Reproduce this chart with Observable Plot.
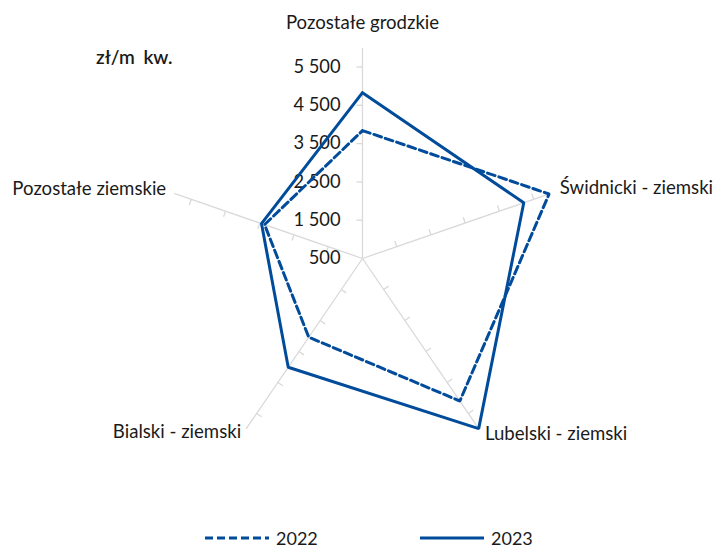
<!DOCTYPE html>
<html>
<head>
<meta charset="utf-8">
<script src="https://cdn.jsdelivr.net/npm/d3@7"></script>
<script src="https://cdn.jsdelivr.net/npm/@observablehq/plot@0.6"></script>
<style>
  body { margin: 0; background: #fff; font-family: Lato, "DejaVu Sans", sans-serif; color: #1a1a1a; }
  #wrap { position: relative; width: 717px; height: 551px; }
  #legend { position: absolute; left: 0; top: 520px; width: 717px; height: 31px; }
  .item { position: absolute; top: 9px; height: 18px; display: flex; align-items: center; font-size: 18px; line-height: 18px; }
  .item svg { display: block; margin-right: 7px; }
  .item span { display: block; height: 18px; line-height: 18px; }
</style>
</head>
<body>
<div id="wrap"><div id="chart"></div><div id="legend"></div></div>
<script>
// ---- data ----
const categories = ["Pozostałe grodzkie", "Świdnicki - ziemski", "Lubelski - ziemski", "Bialski - ziemski", "Pozostałe ziemskie"];
const values2022 = [3840, 5950, 5100, 3040, 3360];
const values2023 = [4830, 5210, 5990, 4010, 3450];
const seriesNames = ["2022", "2023"];
const tickValues = [500, 1500, 2500, 3500, 4500, 5500];
const tickLabels = ["500", "1 500", "2 500", "3 500", "4 500", "5 500"];
const unitLabel = "zł/m kw.";
const rMin = 500, rMax = 6000;

// ---- layout ----
const W = 717, H = 520;
const cx = 362, cy = 258;     // centre in pixels
const ky = 0.0383;            // px per unit (vertical)
const kx = ky * 0.94;         // px per unit (horizontal)
const blue = "#004c9b";
const grid = "#d9d9d9";
const n = categories.length;
const ang = i => i * 2 * Math.PI / n;
const pt = (i, v) => ({x: (v - rMin) * Math.sin(ang(i)), y: (v - rMin) * Math.cos(ang(i))});

const poly = vals => {
  const p = vals.map((v, i) => pt(i, v));
  return [...p, p[0]];
};

// spokes
const spokes = categories.map((c, i) => ({i}));

// ticks (perpendicular, 6px)
const ticks = [];
categories.forEach((c, i) => {
  const ux = Math.sin(ang(i)) * kx, uy = -Math.cos(ang(i)) * ky;
  const len = Math.hypot(ux, uy);
  const px = uy / len, py = -ux / len; // screen perpendicular
  tickValues.slice(1).forEach(t => {
    const p = pt(i, t);
    ticks.push({x1: p.x, y1: p.y, x2: p.x + 6 * px / kx, y2: p.y - 6 * py / ky});
  });
});

const labelLayout = [
  {anchor: "middle", dx: 0, dy: -25},
  {anchor: "start", dx: 9, dy: -5},
  {anchor: "start", dx: 6, dy: 5},
  {anchor: "end", dx: -5, dy: 3},
  {anchor: "end", dx: -8, dy: -4}
];

const labelMarks = categories.map((c, i) => Plot.text([c], {
  x: () => pt(i, rMax).x, y: () => pt(i, rMax).y, text: d => d,
  textAnchor: labelLayout[i].anchor, dx: labelLayout[i].dx, dy: labelLayout[i].dy,
  fontSize: 18.6
}));

const chart = Plot.plot({
  width: W, height: H,
  margin: 0,
  x: {domain: [-cx / kx, (W - cx) / kx], range: [0, W], axis: null},
  y: {domain: [-(H - cy) / ky, cy / ky], range: [H, 0], axis: null},
  style: {fontFamily: "Lato, 'DejaVu Sans', sans-serif", fontSize: "18px", color: "#1a1a1a", background: "#fff"},
  marks: [
    Plot.link(spokes, {x1: () => 0, y1: () => 0, x2: d => pt(d.i, rMax).x, y2: d => pt(d.i, rMax).y, stroke: grid, strokeWidth: 1.3}),
    Plot.link(ticks, {x1: "x1", y1: "y1", x2: "x2", y2: "y2", stroke: grid, strokeWidth: 1.3}),
    Plot.text(tickValues, {x: () => 0, y: t => t - rMin, text: (t, i) => tickLabels[i], textAnchor: "end", dx: -22, fontSize: 18.3}),
    Plot.line(poly(values2022), {x: "x", y: "y", stroke: blue, strokeWidth: 3, strokeDasharray: "8,4", strokeLinejoin: "miter", curve: "linear"}),
    Plot.line(poly(values2023), {x: "x", y: "y", stroke: blue, strokeWidth: 3, strokeLinejoin: "miter", curve: "linear"}),
    ...labelMarks,
    Plot.text([unitLabel], {frameAnchor: "top-left", dx: 172, dy: 50, text: d => d, textAnchor: "end", fontSize: 19, fontWeight: 600})
  ]
});
d3.select(chart).selectAll("text").filter(function() { return this.textContent === unitLabel; }).style("word-spacing", "4px");
document.getElementById("chart").appendChild(chart);

// legend
const legend = d3.select("#legend");
const legendPos = [205, 420];
seriesNames.forEach((s, i) => {
  const item = legend.append("div").attr("class", "item").style("left", legendPos[i] + "px");
  const svg = item.append("svg").attr("width", 64).attr("height", 6);
  svg.append("line").attr("x1", 0).attr("x2", 64).attr("y1", 3).attr("y2", 3)
    .attr("stroke", blue).attr("stroke-width", 3)
    .attr("stroke-dasharray", i === 0 ? "8,4" : null);
  item.append("span").text(s);
});
</script>
</body>
</html>
